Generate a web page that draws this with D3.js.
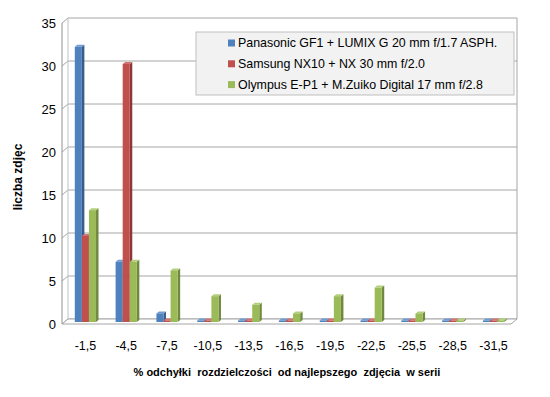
<!DOCTYPE html>
<html>
<head>
<meta charset="utf-8">
<script src="https://cdn.jsdelivr.net/npm/d3@7"></script>
<style>
  body { margin: 0; background: #fff; }
  text { font-family: "Liberation Sans", Arial, sans-serif; }
</style>
</head>
<body>
<script>
// data
var categories = ["-1,5", "-4,5", "-7,5", "-10,5", "-13,5", "-16,5", "-19,5", "-22,5", "-25,5", "-28,5", "-31,5"];
var seriesNames = ["Panasonic GF1 + LUMIX G 20 mm f/1.7 ASPH.",
                   "Samsung NX10 + NX 30 mm f/2.0",
                   "Olympus E-P1 + M.Zuiko Digital 17 mm f/2.8"];
var panasonic = [32, 7, 1, 0, 0, 0, 0, 0, 0, 0, 0];
var samsung   = [10, 30, 0, 0, 0, 0, 0, 0, 0, 0, 0];
var olympus   = [13, 7, 6, 3, 2, 1, 3, 4, 1, 0, 0];
var yTicks = [0, 5, 10, 15, 20, 25, 30, 35];

var colors = ["#4f81bd", "#c0504d", "#9bbb59"];
var sides  = ["#385d8a", "#8c3836", "#71893f"];
var tops   = ["#6f9bd1", "#d27572", "#b3cf7a"];
var series = [panasonic, samsung, olympus];

var width = 550, height = 397;
var dx = 6, dy = 5; // depth offset of the floor/walls (front -> back)

var svg = d3.select("body").append("svg")
    .attr("width", width)
    .attr("height", height);

// front scale (tick labels) and back-wall scale
var yFront = d3.scaleLinear().domain([0, 35]).range([324, 23]);
var yBack = function(v) { return yFront(v) - dy; };
var xLeft = 62, xRight = 511;

var x = d3.scaleBand().domain(categories).range([65, 514]);
var xs = d3.scaleBand().domain([0, 1, 2])
    .range([0, x.bandwidth() * 0.52]);

// back wall gridlines
svg.append("g").selectAll("line")
    .data(yTicks)
  .enter().append("line")
    .attr("x1", xLeft + dx).attr("x2", xRight + dx)
    .attr("y1", function(d) { return yBack(d); })
    .attr("y2", function(d) { return yBack(d); })
    .attr("stroke", "#a6a6a6");

// left wall ticks (diagonal)
svg.append("g").selectAll("line")
    .data(yTicks)
  .enter().append("line")
    .attr("x1", xLeft).attr("x2", xLeft + dx)
    .attr("y1", function(d) { return yFront(d); })
    .attr("y2", function(d) { return yBack(d); })
    .attr("stroke", "#a6a6a6");

// walls and floor outlines
svg.append("line")
    .attr("x1", xLeft + dx).attr("x2", xLeft + dx)
    .attr("y1", yBack(35)).attr("y2", yBack(0))
    .attr("stroke", "#c0c0c0");
svg.append("line")
    .attr("x1", xRight + dx).attr("x2", xRight + dx)
    .attr("y1", yBack(35)).attr("y2", yBack(0))
    .attr("stroke", "#a6a6a6");
svg.append("path")
    .attr("d", "M" + (xLeft + dx) + "," + yBack(0) + "L" + (xRight + dx) + "," + yBack(0) +
               "L" + xRight + "," + yFront(0) + "L" + xLeft + "," + yFront(0) + "Z")
    .attr("fill", "#fff")
    .attr("stroke", "#a6a6a6");
svg.append("line")
    .attr("x1", xLeft).attr("x2", xLeft)
    .attr("y1", yFront(35)).attr("y2", yFront(0))
    .attr("stroke", "#909090");

// bars
var yBar = d3.scaleLinear().domain([0, 35]).range([322, 21]);
var bd = 2.5, bh = 2; // bar depth offset
var cw = x.bandwidth() * 0.52;

series.forEach(function(vals, si) {
  var g = svg.append("g");
  var bars = g.selectAll("g")
      .data(vals)
    .enter().append("g")
      .attr("transform", function(d, i) {
        return "translate(" + (x(categories[i]) + (x.bandwidth() - cw) / 2 + xs(si)) + ",0)";
      });
  var w = xs.bandwidth();
  function top(d) { return d === 0 ? yBar(0) - 1.5 : yBar(d); }
  // side face
  bars.append("path")
    .attr("d", function(d) {
      var t = top(d), b = yBar(0);
      return "M" + w + "," + t + "L" + (w + bd) + "," + (t - bh) + "L" + (w + bd) + "," + (b - bh) +
             "L" + w + "," + b + "Z";
    })
    .attr("fill", sides[si]);
  // top face
  bars.append("path")
    .attr("d", function(d) {
      var t = top(d);
      return "M0," + t + "L" + bd + "," + (t - bh) + "L" + (w + bd) + "," + (t - bh) + "L" + w + "," + t + "Z";
    })
    .attr("fill", tops[si]);
  // front face
  bars.append("rect")
    .attr("x", 0)
    .attr("width", w)
    .attr("y", function(d) { return top(d); })
    .attr("height", function(d) { return yBar(0) - top(d); })
    .attr("fill", colors[si]);
});

// y tick labels
svg.append("g").selectAll("text")
    .data(yTicks)
  .enter().append("text")
    .attr("x", 56)
    .attr("y", function(d) { return yFront(d); })
    .attr("dy", "0.35em")
    .attr("text-anchor", "end")
    .style("font-size", "13px")
    .text(function(d) { return d; });

// x tick labels
svg.append("g").selectAll("text")
    .data(categories)
  .enter().append("text")
    .attr("x", function(d) { return x(d) + x.bandwidth() / 2; })
    .attr("y", 346)
    .attr("dy", "0.35em")
    .attr("text-anchor", "middle")
    .style("font-size", "12.5px")
    .text(function(d) { return d; });

// axis titles
svg.append("text")
    .attr("transform", "translate(22,177) rotate(-90)")
    .attr("text-anchor", "middle")
    .style("font-size", "12px")
    .style("font-weight", "bold")
    .text("liczba zdjęc");

svg.append("text")
    .attr("x", 287)
    .attr("y", 376)
    .attr("text-anchor", "middle")
    .attr("xml:space", "preserve")
    .style("white-space", "pre")
    .style("font-size", "11px")
    .style("font-weight", "bold")
    .text("% odchyłki  rozdzielczości  od najlepszego  zdjęcia  w serii");

// legend
var legend = svg.append("g").attr("transform", "translate(196,32)");
legend.append("rect")
    .attr("width", 318).attr("height", 63)
    .attr("fill", "#f2f2f2")
    .attr("stroke", "#bfbfbf");
var item = legend.selectAll("g.item")
    .data(seriesNames)
  .enter().append("g")
    .attr("class", "item")
    .attr("transform", function(d, i) { return "translate(32," + (11 + i * 20.8) + ")"; });
item.append("rect")
    .attr("x", 0).attr("y", -3.5)
    .attr("width", 7).attr("height", 7)
    .attr("fill", function(d, i) { return colors[i]; });
item.append("text")
    .attr("x", 10)
    .attr("dy", "0.35em")
    .style("font-size", "12.4px")
    .text(function(d) { return d; });
</script>
</body>
</html>
